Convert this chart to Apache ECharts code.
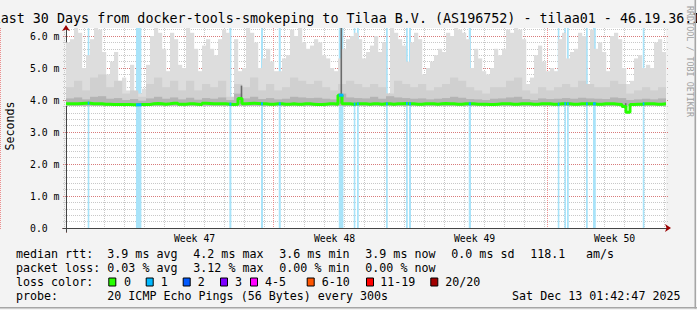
<!DOCTYPE html>
<html><head><meta charset="utf-8">
<script src="https://cdn.jsdelivr.net/npm/echarts@6/dist/echarts.min.js"></script>
<style>html,body{margin:0;padding:0;background:#f3f3f3}#c{width:697px;height:310px}</style>
</head><body><div id="c"></div>
<script>
// ---------------- DATA ----------------
// time axis in days after Thu Nov 13 2025 00:00; graph starts 01:42:47
const xMin = 0.0714;
const spanDays = 30;
const colDays = 0.2;        // smoke / median column width
const layerDays = 0.4;      // inner smoke layer column width
const yMaxSec = 6.25;       // in ms ("m")
const smokeFloor = 3.82;

// upper envelope of the smoke (max of 20 pings), ms
const smokeTop = [
 5.8,5.9,6.25,6.1,5.0,5.4,5.9,6.25,6.2,5.5,4.8,5.2,5.5,4.6,4.7,4.3,5.1,4.25,4.2,4.35,5.1,6.0,6.25,6.1,5.6,4.9,6.1,5.9,5.1,5.0,6.25,6.1,5.6,4.9,5.7,5.9,5.6,5.4,
 5.9,6.2,6.1,4.1,5.9,4.9,5.0,6.25,6.1,5.8,5.0,5.3,5.6,5.2,4.9,4.9,5.3,5.4,6.2,6.0,6.25,5.8,5.6,5.7,5.9,5.8,5.4,5.3,5.0,4.9,5.3,5.6,5.9,6.0,6.1,5.9,5.3,5.5,
 5.7,6.0,5.5,5.8,4.2,6.25,6.1,5.9,5.7,5.2,5.8,6.1,5.9,4.8,5.0,5.2,5.4,5.6,5.5,6.1,6.0,6.25,6.2,6.1,5.9,5.0,5.6,5.3,4.9,4.8,5.0,5.6,5.4,5.6,6.2,6.1,6.25,6.2,
 5.9,4.5,4.7,5.4,5.7,5.2,4.9,5.0,4.9,5.9,6.1,5.3,5.5,5.6,6.1,6.0,4.5,6.2,5.6,5.8,5.5,4.9,6.0,6.1,5.9,5.0,4.5,4.6,5.3,5.4,5.0,5.1,5.0,5.8,5.9,5.5
];
// middle smoke layer top, ms
const smokeMid = [
 4.4,4.6,4.3,4.7,4.8,4.4,4.6,4.2,4.3,4.1, 4.5,4.7,4.4,4.6,4.3,4.6,4.3,4.5,4.4,4.6,
 4.1,4.5,4.4,4.7,4.3,4.5,4.3,4.4,4.7,4.6, 4.5,4.6,4.4,4.3,4.5,4.6,4.5,4.4,4.5,4.4,
 4.2,4.6,4.5,4.4,4.5,4.3,4.4,4.5,4.7,4.6, 4.4,4.3,4.2,4.4,4.4,4.6,4.7,4.3,4.2,4.4,
 4.3,4.4,4.5,4.4,4.6,4.5,4.4,4.4,4.6,4.5, 4.2,4.3,4.4,4.3,4.4
];
// dense smoke layer top, ms
const smokeDark = [
 4.05,4.08,4.02,4.1,4.12,4.04,4.06,4.0,4.03,3.98, 4.05,4.1,4.04,4.08,4.02,4.07,4.01,4.06,4.04,4.08,
 4.0,4.2,4.05,4.1,4.03,4.06,4.02,4.04,4.1,4.08, 4.06,4.07,4.04,4.02,4.2,4.08,4.06,4.05,4.1,4.04,
 4.12,4.08,4.06,4.04,4.05,4.02,4.04,4.06,4.1,4.07, 4.03,4.02,4.0,4.04,4.05,4.08,4.1,4.03,4.0,4.05,
 4.03,4.04,4.06,4.04,4.07,4.05,4.04,4.03,4.08,4.06, 4.0,4.02,4.04,4.02,4.05
];
// median rtt, ms
const medianRtt = [
 3.88,3.88,3.88,3.89,3.9,3.9,3.88,3.88,3.88,3.87,3.87,3.86,3.86,3.86,3.86,3.86,3.85,3.85,3.86,3.86,3.86,3.88,3.89,3.88,3.87,3.88,3.9,3.9,3.87,3.87,3.88,3.88,3.87,3.86,3.9,3.89,3.88,3.88,
 3.88,3.88,3.87,3.86,3.87,4.05,3.88,3.89,3.9,3.89,3.88,3.88,3.87,3.87,3.88,3.88,3.87,3.87,3.88,3.87,3.87,3.88,3.88,3.87,3.86,3.86,3.87,3.88,3.88,3.87,4.15,3.88,3.88,3.87,3.88,3.88,3.88,3.87,
 3.88,3.88,3.87,3.88,3.88,3.87,3.88,3.88,3.89,3.88,3.88,3.87,3.87,3.88,3.88,3.88,3.87,3.88,3.89,3.88,3.88,3.87,3.87,3.88,3.88,3.88,3.87,3.87,3.87,3.86,3.86,3.87,3.88,3.88,3.88,3.87,3.87,3.88,
 3.88,3.88,3.87,3.87,3.88,3.88,3.88,3.87,3.87,3.88,3.88,3.88,3.87,3.87,3.88,3.88,3.88,3.88,3.87,3.87,3.88,3.88,3.88,3.87,3.86,3.8,3.62,3.86,3.87,3.87,3.88,3.88,3.88,3.87,3.87,3.88
];
// periods with packet loss (days), loss count per period (of 20)
const lossStart = [1.157,3.57,8.24,9.82,10.71,13.71,14.46,14.62,16.07,17.07,17.22,20.21,24.66,24.99,25.12,26.07,26.42,28.91];
const lossEnd   = [1.237,3.84,8.34,9.92,10.81,13.94,14.54,14.71,16.16,17.16,17.32,20.32,24.74,25.07,25.21,26.16,26.56,28.99];
const lossCount = [1,1,1,1,1,1,1,1,1,1,1,1,1,1,1,1,1,1];
// isolated wide-spread ping columns (day, low ms, high ms)
const spikeDay  = [8.846, 13.836, 28.056];
const spikeLow  = [3.9, 3.9, 3.6];
const spikeHigh = [4.45, 6.25, 3.9];

const weekLabels = ['Week 47','Week 48','Week 49','Week 50'];
const weekStart = 3;   // first week boundary (days)

const titleText = 'Last 30 Days from docker-tools-smokeping to Tilaa B.V. (AS196752) - tilaa01 - 46.19.36.1';
const rttStats  = ['3.9 ms avg','4.2 ms max','3.6 ms min','3.9 ms now','0.0 ms sd','118.1'];
const lossStats = ['0.03 % avg','3.12 % max','0.00 % min','0.00 % now'];
const lossLegendLabels = ['0','1','2','3','4-5','6-10','11-19','20/20'];
const lossLegendColors = ['#26ff00','#00b8ff','#0059ff','#7e00ff','#ff00ff','#ff5500','#ff0000','#a10000'];
const probeText = '20 ICMP Echo Pings (56 Bytes) every 300s';
const stampText = 'Sat Dec 13 01:42:47 2025';

// ---------------- CHART ----------------
const xMax = xMin + spanDays;
const MONO = '"DejaVu Sans Mono", monospace';
const chart = echarts.init(document.getElementById('c'), null, {renderer:'svg', width:697, height:310});

const topCols  = smokeTop.map((v,i)=>[xMin+i*colDays, xMin+(i+1)*colDays, v]);
const midCols  = smokeMid.map((v,i)=>[xMin+i*layerDays, xMin+(i+1)*layerDays, v]);
const darkCols = smokeDark.map((v,i)=>[xMin+i*layerDays, xMin+(i+1)*layerDays, v]);
const medPts = medianRtt.map((v,i)=>[xMin+i*colDays, v]);
medPts.push([xMax, medianRtt[medianRtt.length-1]]);
const lossBands = lossStart.map((s,i)=>[s, lossEnd[i], lossCount[i],
   medianRtt[Math.min(medianRtt.length-1, Math.floor((s-xMin)/colDays))]]);
const spikes = spikeDay.map((d,i)=>[d, spikeLow[i], spikeHigh[i]]);

function colRender(color){
  return function(params, api){
    const a = api.coord([api.value(0), api.value(2)]);
    const b = api.coord([api.value(1), smokeFloor]);
    return {type:'rect', shape:{x:a[0], y:a[1], width:b[0]-a[0]+0.2, height:b[1]-a[1]}, style:{fill:color}};
  };
}

const hidden = {show:false};
const noAxis = {axisLine:hidden, axisTick:hidden, axisLabel:hidden, splitLine:hidden};
const dotted = (c)=>({show:true, showMaxLine:false, lineStyle:{color:c, width:1, type:[1,1]}});

const option = {
  animation:false,
  backgroundColor:'#f3f3f3',
  grid:[
    {left:66, right:31, top:28, bottom:82, show:true, backgroundColor:'#ffffff', borderWidth:0}, // 0 data
    {left:63, right:29, top:28, bottom:82},      // 1 horizontal grid + x axis line
    {left:64.57, right:31, top:28, bottom:80},   // 2 day lines
    {left:64.57-4*20, right:31, top:28, bottom:80}, // 3 week lines
    {left:64.57-0.5*20, right:31, top:28, bottom:82}, // 4 week labels
    {left:66, right:29, top:28, bottom:78}       // 5 y axis line
  ],
  xAxis:[
    Object.assign({type:'value', gridIndex:0, min:xMin, max:xMax}, noAxis),
    {type:'value', gridIndex:1, min:0, max:1, position:'bottom', axisLine:{show:true, onZero:false, symbol:['none','arrow'], symbolSize:[6,6], symbolOffset:[0,3], lineStyle:{color:'#9b0000', width:1}}, axisTick:hidden, axisLabel:hidden, splitLine:hidden},
    {type:'value', gridIndex:1, min:0, max:1, position:'bottom', axisLine:{show:true, onZero:false, lineStyle:{color:'#444', width:1}}, axisTick:hidden, axisLabel:hidden, splitLine:hidden},
    {type:'value', gridIndex:2, min:0, max:xMax, interval:1, axisLine:hidden, axisTick:hidden, axisLabel:hidden, splitLine:dotted('#c8c8c8')},
    {type:'value', gridIndex:3, min:weekStart-7, max:xMax, interval:7, axisLine:hidden, axisTick:hidden, axisLabel:hidden, splitLine:dotted('rgba(230,60,60,0.55)')},
    {type:'value', gridIndex:4, min:weekStart-3.5, max:xMax, interval:7, position:'bottom', axisLine:hidden, axisTick:hidden, splitLine:hidden,
      axisLabel:{show:true, showMinLabel:false, showMaxLabel:false, margin:5, color:'#000', fontFamily:'DejaVu Sans Mono', fontSize:9.8,
        formatter:(v)=>{const k=Math.round((v-(weekStart+3.5))/7); return (Math.abs(v-(weekStart+3.5)-7*k)<1e-6 && weekLabels[k])?weekLabels[k]:'';}}},
    Object.assign({type:'value', gridIndex:5, min:0, max:1}, noAxis)
  ],
  yAxis:[
    {type:'value', gridIndex:0, min:0, max:yMaxSec, interval:1, axisLine:hidden, axisTick:hidden, splitLine:hidden,
      axisLabel:{show:true, showMaxLabel:false, align:'left', margin:36, color:'#000', fontFamily:'DejaVu Sans Mono', fontSize:9.8,
        formatter:(v)=> v===0 ? '0.0' : (Math.abs(v-Math.round(v))<1e-6 ? v.toFixed(1)+' m' : '')}},
    {type:'value', gridIndex:1, min:0, max:yMaxSec, interval:0.2, axisLine:hidden, axisTick:hidden, axisLabel:hidden, splitLine:dotted('#c8c8c8')},
    {type:'value', gridIndex:1, min:0, max:yMaxSec, interval:1, axisLine:hidden, axisTick:hidden, axisLabel:hidden, splitLine:dotted('rgba(230,60,60,0.55)')},
    Object.assign({type:'value', gridIndex:2, min:0, max:1}, noAxis),
    Object.assign({type:'value', gridIndex:3, min:0, max:1}, noAxis),
    Object.assign({type:'value', gridIndex:4, min:0, max:1}, noAxis),
    {type:'value', gridIndex:5, min:0, max:1, position:'left', axisLine:{show:true, onZero:false, symbol:['none','arrow'], symbolSize:[6,6], symbolOffset:[0,3], lineStyle:{color:'#9b0000', width:1}}, axisTick:hidden, axisLabel:hidden, splitLine:hidden},
    {type:'value', gridIndex:5, min:0, max:1, position:'left', axisLine:{show:true, onZero:false, lineStyle:{color:'#444', width:1}}, axisTick:hidden, axisLabel:hidden, splitLine:hidden}
  ],
  series:[
    {type:'custom', name:'loss background', xAxisIndex:0, yAxisIndex:0, z:1, clip:true, data:lossBands, encode:{x:[0,1], y:3},
      renderItem:(params, api)=>{
        const a = api.coord([api.value(0), yMaxSec]);
        const b = api.coord([api.value(1), 0]);
        return {type:'rect', shape:{x:a[0], y:a[1], width:Math.max(1.2,b[0]-a[0]), height:b[1]-a[1]}, style:{fill:'#a8e3f9'}};
      }},
    {type:'custom', name:'smoke', xAxisIndex:0, yAxisIndex:0, z:2, clip:true, data:topCols, encode:{x:[0,1], y:2}, renderItem:colRender('#dddddd')},
    {type:'custom', name:'smoke mid', xAxisIndex:0, yAxisIndex:0, z:3, clip:true, data:midCols, encode:{x:[0,1], y:2}, renderItem:colRender('#d0d0d0')},
    {type:'custom', name:'smoke dense', xAxisIndex:0, yAxisIndex:0, z:4, clip:true, data:darkCols, encode:{x:[0,1], y:2}, renderItem:colRender('#b4b4b4')},
    {type:'custom', name:'spikes', xAxisIndex:0, yAxisIndex:0, z:5, clip:true, data:spikes, encode:{x:0, y:[1,2]},
      renderItem:(params, api)=>{
        const a = api.coord([api.value(0), api.value(1)]);
        const b = api.coord([api.value(0), api.value(2)]);
        return {type:'line', shape:{x1:a[0], y1:a[1], x2:b[0], y2:b[1]}, style:{stroke:'#6a6a6a', lineWidth:1.6}};
      }},
    {type:'line', name:'median rtt', xAxisIndex:0, yAxisIndex:0, z:6, data:medPts, step:'end', showSymbol:false, symbol:'none',
      lineStyle:{color:'#26ff00', width:3}},
    {type:'custom', name:'median loss', xAxisIndex:0, yAxisIndex:0, z:7, clip:true, data:lossBands, encode:{x:[0,1], y:3},
      renderItem:(params, api)=>{
        const a = api.coord([api.value(0), api.value(3)]);
        const b = api.coord([api.value(1), api.value(3)]);
        const c = lossLegendColors[Math.min(lossLegendColors.length-1, api.value(2))];
        return {type:'rect', shape:{x:a[0], y:a[1]-1.5, width:Math.max(1.5,b[0]-a[0]), height:3}, style:{fill:c}};
      }}
  ],
  graphic:[]
};

// text and legend
const g = [];
function txt(x, y, s, size, opts){
  g.push(Object.assign({type:'text', x:x, y:y, silent:true,
    style:Object.assign({text:s, font:size+'px '+MONO, fill:'#000', align:'left', verticalAlign:'middle'}, (opts&&opts.style)||{})},
    (opts&&opts.el)||{}));
}
txt(-7.4, 18.5, titleText, 13.37);
txt(10, 126, 'Seconds', 11.67, {el:{rotation:Math.PI/2}, style:{align:'center'}});
txt(690, 6, 'RRDTOOL / TOBI OETIKER', 8.4, {el:{rotation:-Math.PI/2}, style:{fill:'#a0a0a0', align:'left'}});
const LF = 11.67;
const r1 = 253.5, r2 = 267.8, r3 = 282, r4 = 296.2;
txt(16, r1, 'median rtt:', LF);
const rttX = [107.3,193.3,279.3,365.3,451.3,530.3];
rttStats.forEach((s,i)=>txt(rttX[i], r1, s, LF));
txt(586, r1, 'am/s', LF);
txt(16, r2, 'packet loss:', LF);
lossStats.forEach((s,i)=>txt(rttX[i], r2, s, LF));
txt(16, r3, 'loss color:', LF);
const boxX = [108.3,145.7,182.7,220,250,306.7,366,430.3];
const labX = [124,160.7,197.7,235,265,321.7,380.3,445.3];
lossLegendLabels.forEach((s,i)=>{
  g.push({type:'rect', silent:true, shape:{x:boxX[i]+0.5, y:r3-4, width:7, height:8}, style:{fill:lossLegendColors[i], stroke:'#000', lineWidth:1}});
  txt(labX[i], r3, s, LF);
});
txt(16, r4, 'probe:', LF);
txt(107.3, r4, probeText, LF);
txt(680.5, r4, stampText, LF, {style:{align:'right'}});
// frame shading
g.push({type:'rect', silent:true, shape:{x:0, y:307, width:697, height:1.5}, style:{fill:'#a6a6a6'}});
g.push({type:'rect', silent:true, shape:{x:694.5, y:0, width:1.5, height:308.5}, style:{fill:'#a6a6a6'}});
option.graphic = g;
chart.setOption(option);
</script></body></html>
